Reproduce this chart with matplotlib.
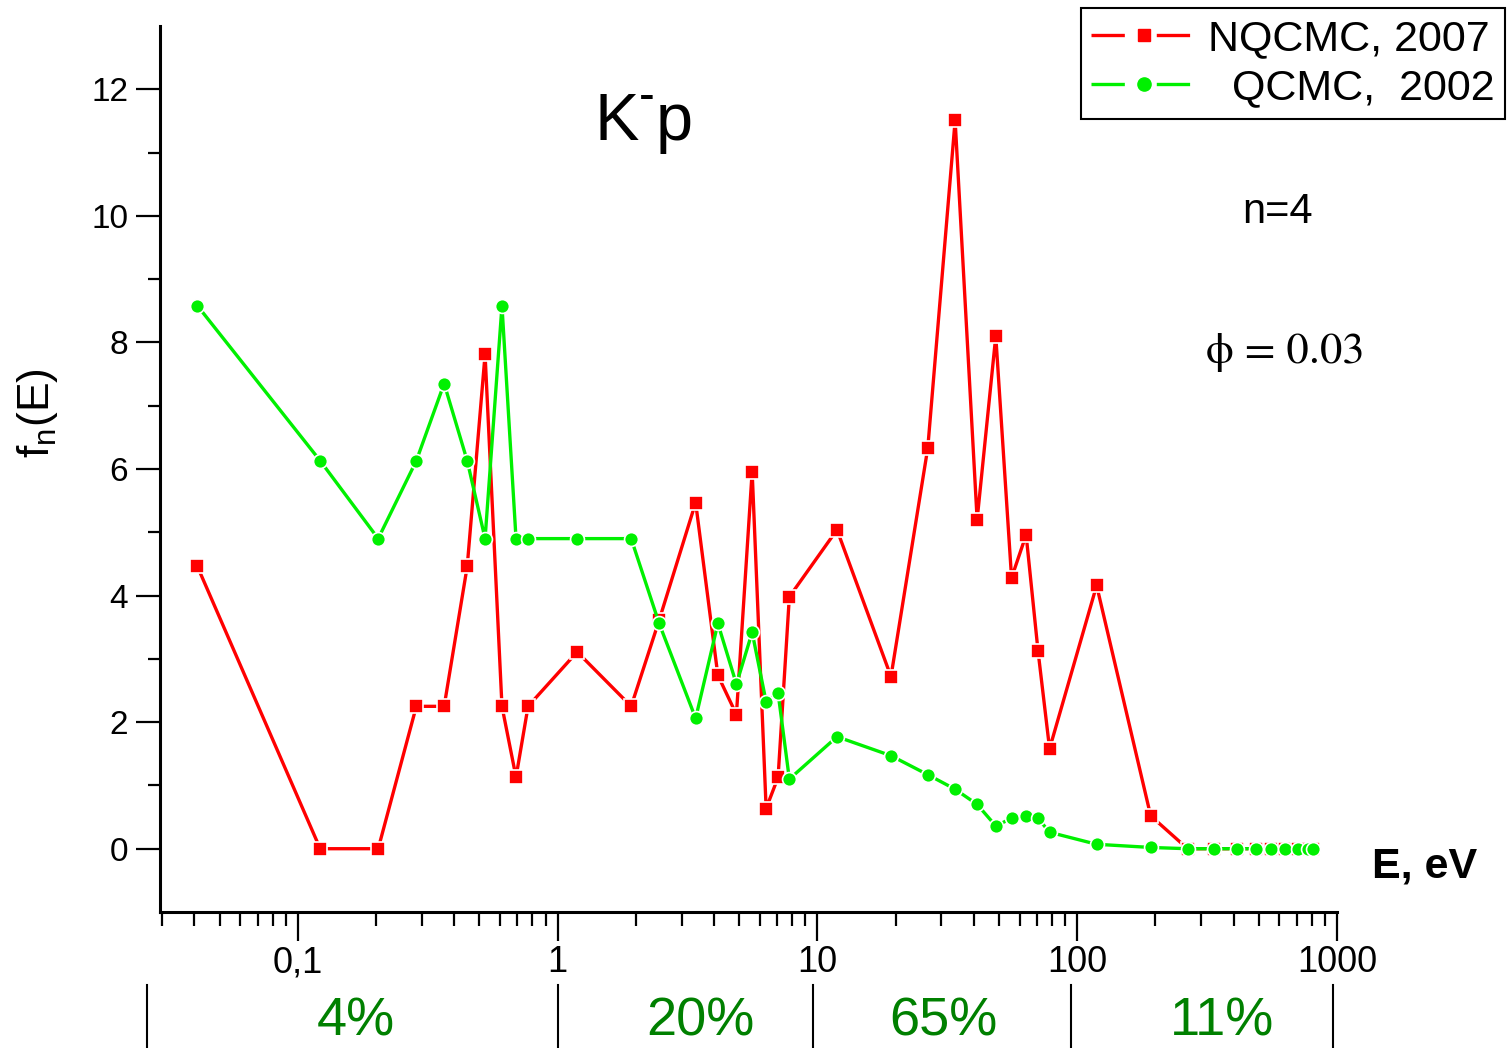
import matplotlib
matplotlib.use("Agg")
import matplotlib.pyplot as plt
from matplotlib.lines import Line2D
from matplotlib.ticker import FixedLocator, NullFormatter
import matplotlib.transforms as mtransforms

plt.rcParams['font.family'] = ['Liberation Sans', 'DejaVu Sans']
plt.rcParams['mathtext.fontset'] = 'stix'
plt.rcParams['lines.scale_dashes'] = False

# energies (eV), shared by both series
energy = [0.0411, 0.122, 0.204, 0.286, 0.366, 0.449, 0.526, 0.611, 0.692, 0.770,
          1.19, 1.92, 2.46, 3.40, 4.14, 4.88, 5.61, 6.35, 7.06, 7.80,
          11.9, 19.2, 26.6, 33.9, 41.2, 48.6, 55.9, 63.6, 70.7, 78.3,
          118.8, 191.8, 266, 336, 412, 488, 557, 631, 707, 770, 810]

nqcmc = [4.46, 0, 0, 2.25, 2.25, 4.46, 7.81, 2.25, 1.13, 2.25,
         3.11, 2.25, 3.61, 5.47, 2.74, 2.12, 5.96, 0.635, 1.13, 3.98,
         5.04, 2.72, 6.33, 11.51, 5.20, 8.10, 4.28, 4.96, 3.12, 1.58,
         4.16, 0.52, 0, 0, 0, 0, 0, 0, 0, 0, 0]

qcmc = [8.58, 6.13, 4.90, 6.13, 7.35, 6.13, 4.90, 8.58, 4.90, 4.90,
        4.90, 4.90, 3.56, 2.06, 3.56, 2.60, 3.42, 2.32, 2.46, 1.10,
        1.77, 1.47, 1.17, 0.94, 0.70, 0.36, 0.48, 0.52, 0.48, 0.26,
        0.07, 0.02, 0, 0, 0, 0, 0, 0, 0, 0, 0]

xtick_vals = [0.1, 1, 10, 100, 1000]
xtick_labels = ['0,1', '1', '10', '100', '1000']

# energy ranges below the axis and their shares
range_edges = [0.0264, 1.0, 9.66, 94.8, 966]
share_pos = [0.168, 3.55, 30.5, 361]
share_labels = ['4%', '20%', '65%', '11%']

W, H = 1507, 1048
fig = plt.figure(figsize=(W / 100, H / 100), dpi=100)
ax = fig.add_axes([160 / W, 1 - 912 / H, (1337 - 160) / W, (912 - 26) / H])

red, = ax.plot(energy, nqcmc, color='#ff0000', lw=2.4, marker='s', ms=9.5,
               mfc='#ff0000', mec='white', mew=1.2, zorder=3)
green, = ax.plot(energy, qcmc, color='#00f000', lw=2.4, marker='o', ms=10,
                 mfc='#00f000', mec='white', mew=1.2, zorder=4)

ax.set_xscale('log')
ax.set_xlim(0.0295, 1000)
ax.set_ylim(-1, 13)

for s in ['top', 'right']:
    ax.spines[s].set_visible(False)
for s in ['left', 'bottom']:
    ax.spines[s].set_linewidth(2.2)

ax.set_xticks(xtick_vals)
ax.set_xticklabels(xtick_labels, fontsize=26)
minors = [m * 10.0 ** e for e in range(-2, 3) for m in range(2, 10)]
ax.xaxis.set_minor_locator(FixedLocator([v for v in minors if 0.0295 <= v <= 1000]))
ax.xaxis.set_minor_formatter(NullFormatter())

ax.set_yticks([0, 2, 4, 6, 8, 10, 12])
ax.set_yticks([1, 3, 5, 7, 9, 11], minor=True)
ax.tick_params(axis='y', which='major', labelsize=24, length=17, width=1.6, pad=6)
ax.tick_params(axis='y', which='minor', length=9, width=1.6)
ax.tick_params(axis='x', which='major', length=21, width=1.6, pad=3)
ax.tick_params(axis='x', which='minor', length=10, width=1.6)

fig.text(38 / W, 1 - 413 / H, r'$\mathregular{f_n(E)}$', rotation=90,
         ha='center', va='center', fontsize=32)
fig.text(1372 / W, 1 - 867 / H, 'E, eV', fontsize=31, fontweight='bold',
         ha='left', va='center')

# K^-p label
fig.text(594 / W, 1 - 140 / H, 'K', fontsize=48, ha='left', va='baseline')
fig.text(647 / W, 1 - 110 / H, '-', fontsize=34, ha='center', va='baseline')
fig.text(656 / W, 1 - 140 / H, 'p', fontsize=48, ha='left', va='baseline')

fig.text(1278 / W, 1 - 212 / H, 'n=4', fontsize=30, ha='center', va='center')
fig.text(1285 / W, 1 - 353 / H, '\u03d5 = 0.03', fontsize=32,
         family=['STIXGeneral', 'DejaVu Serif'], ha='center', va='center')

# legend
h1 = Line2D([], [], color='#ff0000', lw=2.4, dashes=(24, 23), marker='s',
            ms=9, mfc='#ff0000', mec='#ff0000')
h2 = Line2D([], [], color='#00f000', lw=2.4, dashes=(24, 23), marker='o',
            ms=9.5, mfc='#00f000', mec='#00f000')
leg = fig.legend([h1, h2], ['NQCMC, 2007', '  QCMC,  2002'],
                 loc='upper right', bbox_to_anchor=(1505 / W, 1 - 8 / H),
                 bbox_transform=fig.transFigure, fontsize=31, frameon=True,
                 fancybox=False, edgecolor='black', framealpha=1,
                 handlelength=2.45, handletextpad=0.25, borderpad=0.25,
                 labelspacing=0.22, borderaxespad=0, markerscale=1)
leg.get_frame().set_linewidth(1.5)

# ranges and shares below the axis
trans = mtransforms.blended_transform_factory(ax.transData, fig.transFigure)
for xe in range_edges:
    fig.add_artist(Line2D([xe, xe], [1 - 985 / H, 0], transform=trans,
                          color='black', lw=1.5))
for xp, lab in zip(share_pos, share_labels):
    fig.text(xp, 0.001, lab, transform=trans, fontsize=39,
             color='#008000', ha='center', va='bottom')

fig.savefig('out.png', dpi=100)
